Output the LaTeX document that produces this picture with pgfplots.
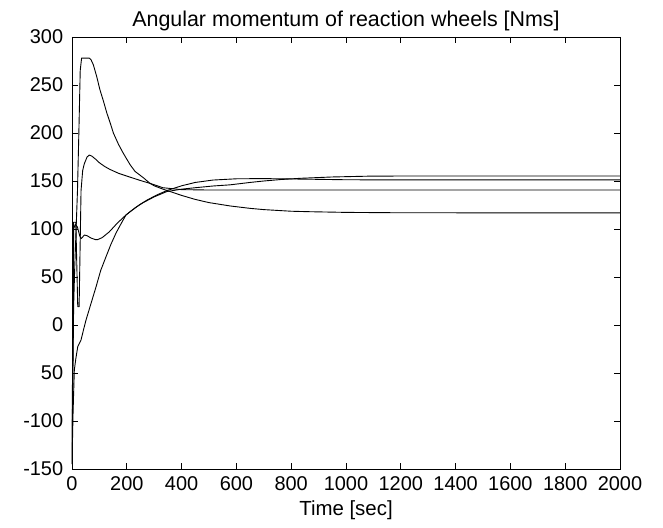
\documentclass[border=0pt]{standalone}
\usepackage{pgfplots}
\pgfplotsset{compat=1.18}
\usepackage{fontspec}
\setmainfont{Liberation Sans}
\begin{document}
\fontsize{20}{24}\selectfont
\begin{tikzpicture}[x=1bp,y=1bp]
\useasboundingbox (-72bp,-59bp) rectangle (591bp,469bp);
\begin{axis}[
  scale only axis, width=548bp, height=432bp,
  xmin=0, xmax=2000, ymin=-150, ymax=300,
  xtick={0,200,...,2000},
  ytick={-150,-100,-50,0,50,100,150,200,250,300},
  yticklabels={-150,-100,50,0,50,100,150,200,250,300},
  /pgf/number format/assume math mode=true,
  /pgf/number format/1000 sep={},
  tick align=inside,
  ticklabel style={font=\fontsize{20}{24}\selectfont},
  major tick length=6bp,
  axis line style={line width=0.9bp},
  every tick/.style={line width=0.9bp, black},
  title={Angular momentum of reaction wheels [Nms]},
  title style={font=\fontsize{21.5}{25}\selectfont, yshift=-7bp},
  xlabel={Time [sec]},
  xlabel style={font=\fontsize{20.5}{24}\selectfont, yshift=4bp},
  yticklabel style={xshift=-2bp},
  xticklabel style={yshift=-1bp},
  clip=true,
]
% Curve A: large peak, settles at ~117
\addplot[black, line width=0.9bp, no markers, line join=round] coordinates {
(0,-145) (3,-60) (6,20) (10,60) (15,100) (20,140) (25,200) (30,265) (35,278)
(63,278) (70,276) (78,271) (90,259) (102,245) (115,233) (127,221) (140,210)
(151,200) (170,188) (187,179) (212,167) (230,160) (260,153.5) (285,147.5) (300,145)
(332,141.5) (400,135) (450,130.8) (500,127.5) (577,124) (650,121.5) (700,120.2)
(800,118.5) (869,118) (1000,117.3) (1200,116.9) (2000,116.8)
};
% Curve B: peak ~177, settles at ~140.6
\addplot[black, line width=0.9bp, no markers, line join=round] coordinates {
(0,-145) (5,107) (14,107) (21,19) (26,19) (33,140) (39,161) (45,168) (55,175)
(63,177) (72,176) (85,173) (100,169) (120,165) (139,162) (170,158) (212,154)
(250,150.5) (285,147.5) (332,143) (400,141) (500,140.6) (2000,140.6)
};
% Curve C: dip near 90, settles at ~151
\addplot[black, line width=0.9bp, no markers, line join=round] coordinates {
(0,-145) (3,-40) (5,19) (6,100) (12,105) (20,102) (28,93) (33,90) (40,92)
(45,93.7) (55,93) (70,90.5) (85,89) (94,89) (110,91) (136,97) (165,106)
(197,114.6) (230,122) (273,130) (310,135.5) (346,140) (400,145) (450,148.5)
(515,151) (600,152.3) (700,152.5) (832,152) (1000,151.3) (1200,151.1) (2000,151.1)
};
% Curve D: slow riser, settles at ~155
\addplot[black, line width=0.9bp, no markers, line join=round] coordinates {
(0,-145) (4,-90) (8.5,-47) (14,-35) (21,-22.6) (33,-15.6) (42,-5) (51,5)
(70,23) (88,40) (105,57) (124,71) (142,84) (161,96) (180,106) (197,114.6)
(212,118) (250,126) (300,133.5) (346,139) (400,141.5) (450,143) (515,144.8)
(577,146) (650,148.5) (700,150) (760,151.5) (832,152.8) (950,154.2)
(1077,155) (1200,155.2) (2000,155.2)
};
\end{axis}
\end{tikzpicture}
\end{document}
